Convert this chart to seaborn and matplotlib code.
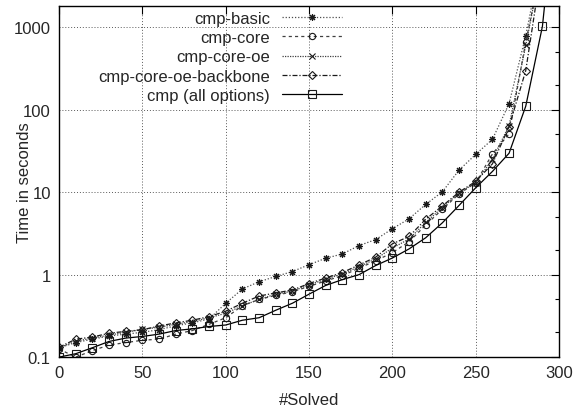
#%% Packages
import matplotlib
matplotlib.use("Agg")
import matplotlib.pyplot as plt
import seaborn as sns
import pandas as pd
from matplotlib.ticker import FixedLocator, FuncFormatter, NullFormatter

#%% Data (markers every 10 instances)
solved = list(range(0, 290, 10))          # 0 .. 280
solved_cmp = list(range(0, 300, 10))      # 0 .. 290

basic = [0.13, 0.15, 0.165, 0.18, 0.19, 0.2, 0.215, 0.24, 0.26, 0.29,
         0.45, 0.67, 0.82, 0.95, 1.09, 1.32, 1.58, 1.78, 2.25, 2.66,
         3.6, 4.75, 7.1, 10.1, 18.5, 28.7, 43.6, 118, 790]
core = [0.125, 0.1, 0.12, 0.14, 0.15, 0.16, 0.165, 0.19, 0.21, 0.25,
        0.3, 0.42, 0.5, 0.56, 0.62, 0.72, 0.84, 0.97, 1.2, 1.47,
        1.85, 2.5, 4.0, 6.2, 9.5, 13, 29, 51, 660]
core_oe = [0.13, 0.156, 0.17, 0.185, 0.2, 0.217, 0.23, 0.25, 0.27, 0.3,
           0.34, 0.42, 0.5, 0.58, 0.63, 0.75, 0.88, 1.02, 1.25, 1.55,
           2.1, 2.7, 4.3, 6.5, 9.8, 13, 25, 64, 600]
backbone = [0.132, 0.165, 0.175, 0.195, 0.205, 0.215, 0.238, 0.26, 0.28, 0.31,
            0.36, 0.45, 0.55, 0.6, 0.65, 0.78, 0.91, 1.06, 1.31, 1.63,
            2.36, 2.9, 4.7, 6.8, 10, 13.5, 22, 62, 297]
cmp_all = [0.1, 0.11, 0.13, 0.155, 0.17, 0.178, 0.19, 0.21, 0.22, 0.235,
           0.245, 0.28, 0.3, 0.37, 0.45, 0.58, 0.74, 0.87, 1.0, 1.29,
           1.59, 2.05, 2.8, 4.25, 6.9, 11.3, 17.8, 29.6, 110, 1020]

# last (unmarked) point of each curve, where it leaves the plot at the top
end_x = {"cmp-basic": 285, "cmp-core": 286, "cmp-core-oe": 286,
         "cmp-core-oe-backbone": 287, "cmp (all options)": 292}
end_y = 2500

x_ticks = [0, 50, 100, 150, 200, 250, 300]
y_ticks = [0.1, 1, 10, 100, 1000]

#%% Style
sns.set_style("white")
plt.rcParams['font.family'] = ['Liberation Sans', 'DejaVu Sans']
plt.rcParams['font.size'] = 12

series = [
    ("cmp-basic", solved, basic, dict(linestyle=(0, (1, 1.5)), marker=(8, 2, 0), markersize=5, color="0.3")),
    ("cmp-core", solved, core, dict(linestyle=(0, (2.5, 2.5)), marker="o", markersize=4.5, color="0.25")),
    ("cmp-core-oe", solved, core_oe, dict(linestyle=(0, (1, 1)), marker="x", markersize=4.5, color="0.25")),
    ("cmp-core-oe-backbone", solved, backbone, dict(linestyle=(0, (4, 1.5, 1, 1.5)), marker="D", markersize=4, color="0.1")),
    ("cmp (all options)", solved_cmp, cmp_all, dict(linestyle="-", marker="s", markersize=5.5, color="black")),
]

fig = plt.figure(figsize=(5.74, 4.14), dpi=100)
ax = fig.add_axes([0.103, 0.135, 0.871, 0.848])

for name, xs, ys, kw in series:
    df = pd.DataFrame({"solved": xs + [end_x[name]], "time": ys + [end_y]})
    sns.lineplot(data=df, x="solved", y="time", ax=ax, label=name,
                 linewidth=0.9, markerfacecolor="none", markeredgewidth=0.8,
                 markevery=list(range(len(xs))), markeredgecolor="0.1", **kw)

ax.set_yscale("log")
ax.set_xlim(0, 300)
ax.set_ylim(0.1, 1800)
ax.xaxis.set_major_locator(FixedLocator(x_ticks))
ax.yaxis.set_major_locator(FixedLocator(y_ticks))
ax.yaxis.set_minor_locator(FixedLocator([m * d for d in y_ticks for m in (2, 5)]))
ax.yaxis.set_major_formatter(FuncFormatter(lambda v, p: f"{v:g}"))
ax.yaxis.set_minor_formatter(NullFormatter())
ax.tick_params(which="both", direction="in", top=True, right=True, color="black", labelsize=12)
ax.tick_params(which="major", length=6, width=0.8, pad=6)
ax.tick_params(which="minor", length=3, width=0.8)
ax.grid(True, which="major", color="0.35", linestyle=(0, (1, 2)), linewidth=0.7)
for s in ax.spines.values():
    s.set_color("black")
    s.set_linewidth(1.0)

ax.set_xlabel("#Solved", fontsize=12, labelpad=8)
ax.set_ylabel("Time in seconds", fontsize=12)
ax.yaxis.set_label_coords(-0.054, 0.5)

leg = ax.legend(loc="upper right", bbox_to_anchor=(0.585, 1.015), frameon=False,
                markerfirst=False, handlelength=3.6, handletextpad=0.7,
                labelspacing=0.26, fontsize=12, borderaxespad=0.2)
for col in leg._legend_handle_box.get_children():
    col.align = "right"

fig.savefig("out.png", dpi=100)
